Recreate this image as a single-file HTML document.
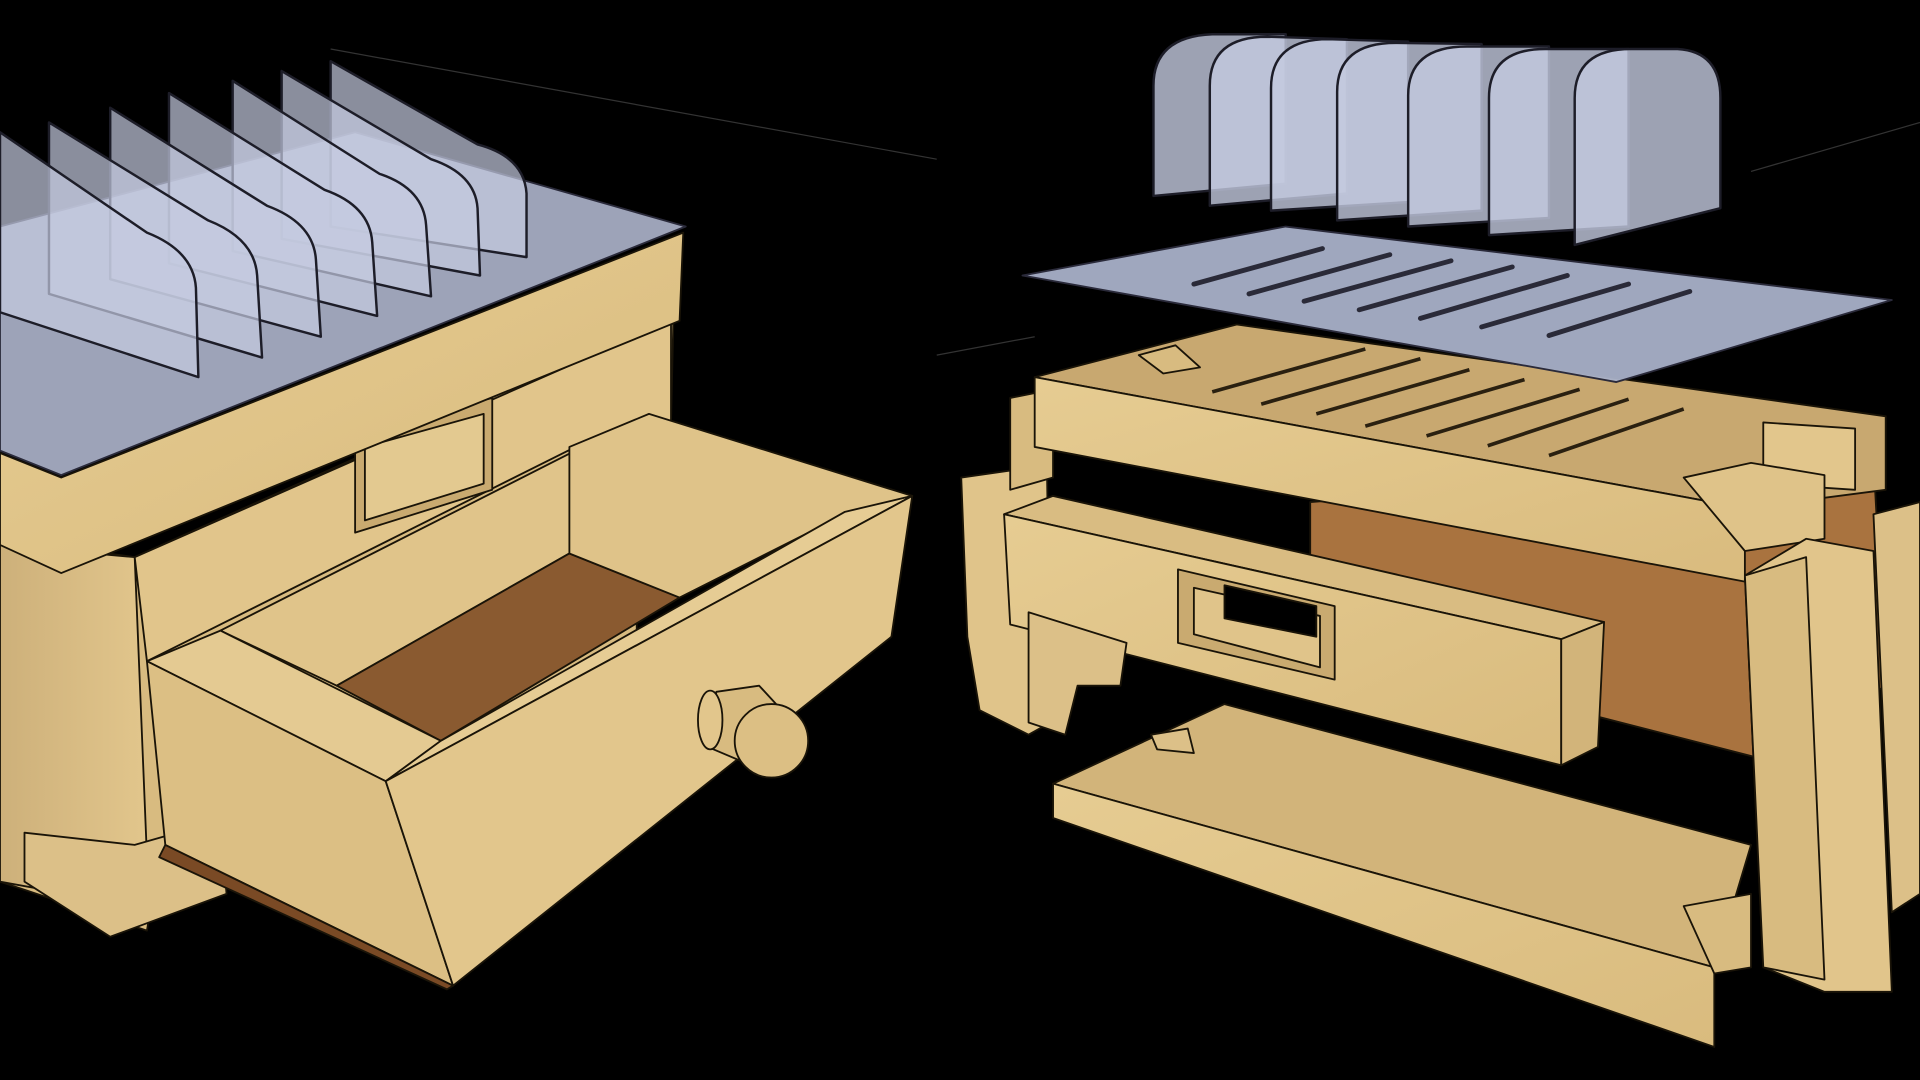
<!DOCTYPE html>
<html><head><meta charset="utf-8"><style>
html,body{margin:0;padding:0;background:#000;width:1920px;height:1080px;overflow:hidden}
svg{display:block}
</style></head><body>
<svg width="1920" height="1080" viewBox="0 0 1568 882" preserveAspectRatio="none" xmlns="http://www.w3.org/2000/svg">
<defs>
<linearGradient id="w1" x1="0" y1="0" x2="1" y2="1"><stop offset="0" stop-color="#e6cc92"/><stop offset="1" stop-color="#d9bb7e"/></linearGradient>
<linearGradient id="w2" x1="0" y1="0" x2="1" y2="0"><stop offset="0" stop-color="#cdb07a"/><stop offset="1" stop-color="#e2c68c"/></linearGradient>
</defs>
<rect width="1568" height="882" fill="#000"/>
<g stroke="#1a1408" stroke-width="1.5" stroke-linejoin="round">
<!-- LEFT OBJECT -->
<polygon points="0,440 110,455 550,258 548,345 520,360 520,600 130,700 120,760 0,720" fill="#d8bb80"/>
<polygon points="0,445 110,455 120,700 110,740 0,720" fill="url(#w2)"/>
<polygon points="20,680 110,690 180,670 185,730 90,765 20,720" fill="#dcc088"/>
<polygon points="110,455 548,262 548,345 470,365 120,540" fill="#e1c58b"/>
<polygon points="290,352 402,325 402,400 290,435" fill="#c9aa70"/>
<polygon points="298,365 395,338 395,395 298,425" fill="#e3c990"/>
<polygon points="0,370 50,390 558,190 555,262 50,468 0,445" fill="url(#w1)"/>
<polygon points="0,185 290,108 560,185 50,388 0,368" fill="#aeb5cc" fill-opacity="0.9" stroke="#2a2a3a"/>
<polygon points="180,515 470,368 465,452 275,560" fill="#e0c48a"/>
<polygon points="275,560 465,452 555,488 360,605" fill="#8a5a30"/>
<polygon points="465,365 530,338 745,405 690,420 555,488 465,452" fill="#dfc389"/>
<polygon points="120,540 180,515 360,605 315,638" fill="#e4ca92"/>
<polygon points="315,638 360,605 690,418 745,405" fill="#e6cc94"/>
<polygon points="120,540 315,638 370,805 135,690" fill="#dcbf84"/>
<polygon points="315,638 745,405 728,520 370,805" fill="#e2c68c"/>
<polygon points="135,690 370,805 365,808 130,700" fill="#7a4a25"/>
<polygon points="585,565 620,560 655,598 630,632 578,610" fill="#d8bb80"/>
<ellipse cx="580" cy="588" rx="10" ry="24" fill="#e2c68c"/>
<ellipse cx="630" cy="605" rx="30" ry="30" fill="#dcbf84"/>
<g fill="#c4cae0" fill-opacity="0.7" stroke="#1d1d28" stroke-width="2">
<path d="M270,50 L390,118 Q428,128 430,158 L430,210 L270,185 Z"/>
<path d="M230,58 L352,130 Q388,142 390,170 L392,225 L230,195 Z"/>
<path d="M190,66 L310,142 Q346,154 348,184 L352,242 L190,205 Z"/>
<path d="M138,76 L265,155 Q302,168 304,198 L308,258 L138,215 Z"/>
<path d="M90,88 L218,168 Q256,182 258,212 L262,275 L90,228 Z"/>
<path d="M40,100 L170,180 Q208,195 210,225 L214,292 L40,240 Z"/>
<path d="M0,108 L120,190 Q158,205 160,235 L162,308 L0,255 Z"/>
</g>
<line x1="270" y1="40" x2="765" y2="130" stroke="#333" stroke-width="1"/>

<!-- RIGHT OBJECT -->
<polygon points="1070,410 1530,375 1540,560 1440,620 1070,525" fill="#a9733f"/>
<polygon points="785,390 855,380 858,590 840,600 800,580 790,520" fill="#e0c48a"/>
<polygon points="825,325 860,318 860,390 825,400" fill="#d8bb80"/>
<polygon points="845,308 1010,265 1540,340 1540,400 1425,415" fill="#c8a870"/>
<polygon points="930,290 960,282 980,300 950,305" fill="#d8bb80"/>
<polygon points="1440,345 1515,350 1515,400 1440,395" fill="#e2c68c"/>
<polygon points="845,308 1425,415 1425,475 845,365" fill="url(#w1)"/>
<polygon points="1375,390 1430,378 1490,388 1490,440 1425,450" fill="#dfc389"/>
<g stroke="#2a2010" stroke-width="3">
<line x1="990" y1="320" x2="1115" y2="285"/><line x1="1030" y1="330" x2="1160" y2="293"/>
<line x1="1075" y1="338" x2="1200" y2="302"/><line x1="1115" y1="348" x2="1245" y2="310"/>
<line x1="1165" y1="356" x2="1290" y2="318"/><line x1="1215" y1="364" x2="1330" y2="326"/>
<line x1="1265" y1="372" x2="1375" y2="334"/>
</g>
<polygon points="835,225 1050,185 1545,245 1320,312" fill="#a8b0c8" fill-opacity="0.95" stroke="#2a2a3a"/>
<g stroke="#2a2a38" stroke-width="4" stroke-linecap="round">
<line x1="975" y1="232" x2="1080" y2="203"/><line x1="1020" y1="240" x2="1135" y2="208"/>
<line x1="1065" y1="246" x2="1185" y2="213"/><line x1="1110" y1="253" x2="1235" y2="218"/>
<line x1="1160" y1="260" x2="1280" y2="225"/><line x1="1210" y1="267" x2="1330" y2="232"/>
<line x1="1265" y1="274" x2="1380" y2="238"/>
</g>
<g fill="#c4cae0" fill-opacity="0.8" stroke="#1d1d28" stroke-width="2">
<path d="M942,160 L942,70 Q942,30 990,28 L1050,28 L1050,150 Z"/>
<path d="M988,168 L988,70 Q988,30 1035,30 L1100,32 L1100,158 Z"/>
<path d="M1038,172 L1038,72 Q1038,32 1085,32 L1150,34 L1150,165 Z"/>
<path d="M1092,180 L1092,75 Q1092,35 1140,35 L1210,36 L1210,172 Z"/>
<path d="M1150,185 L1150,78 Q1150,38 1198,38 L1265,38 L1265,178 Z"/>
<path d="M1216,192 L1216,80 Q1216,40 1262,40 L1330,40 L1330,185 Z"/>
<path d="M1286,200 L1286,80 Q1286,40 1332,40 L1370,40 Q1405,42 1405,80 L1405,170 Z"/>
</g>
<polygon points="820,420 860,405 1310,508 1275,522" fill="#d9bc82"/>
<polygon points="820,420 1275,522 1275,625 825,510" fill="url(#w1)"/>
<polygon points="1275,522 1310,508 1305,610 1275,625" fill="#d2b47a"/>
<polygon points="962,465 1090,495 1090,555 962,525" fill="#c9aa70"/>
<polygon points="975,480 1078,503 1078,545 975,518" fill="#e0c48a"/>
<polygon points="1000,478 1075,495 1075,520 1000,505" fill="#000"/>
<polygon points="840,500 920,525 915,560 880,560 870,600 840,590" fill="#dcc088"/>
<polygon points="860,640 1000,575 1430,690 1400,790" fill="#d2b47a"/>
<polygon points="940,600 970,595 975,615 945,612" fill="#dcc088"/>
<polygon points="860,640 1400,790 1400,855 860,668" fill="url(#w1)"/>
<polygon points="1375,740 1430,730 1430,790 1400,795" fill="#d8bb80"/>
<polygon points="1425,470 1475,440 1530,450 1545,810 1490,810 1440,790" fill="#e1c58b"/>
<polygon points="1425,470 1475,455 1490,800 1440,790" fill="#d8bb80"/>
<polygon points="1530,420 1568,410 1568,730 1545,745" fill="#dcc088"/>
</g>
<line x1="765" y1="290" x2="845" y2="275" stroke="#333"/>
<line x1="1430" y1="140" x2="1568" y2="100" stroke="#333"/>
</svg>
</body></html>
